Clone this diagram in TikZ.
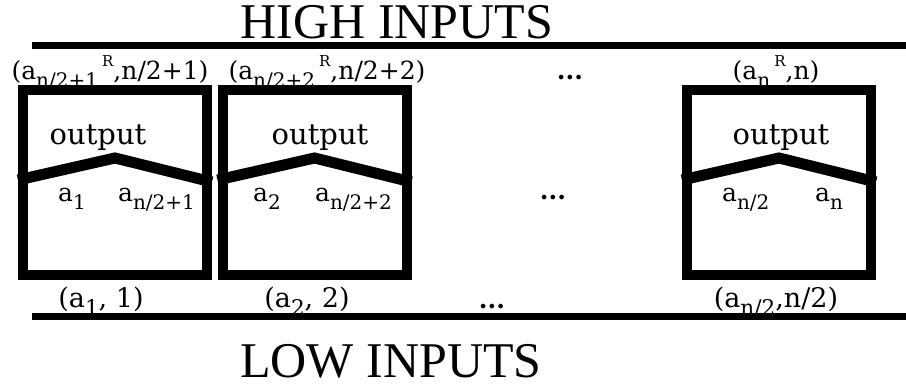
\documentclass[tikz,border=0pt]{standalone}
\usepackage{fontspec}
\usepackage{graphicx}
\setmainfont{DejaVu Serif}
\newfontfamily\headfont{Liberation Serif}
\newcommand\lsub[1]{\raisebox{-0.3em}{\scalebox{0.8}{#1}}}
\newcommand\lsup[1]{\raisebox{0.55em}{\scalebox{0.6}{#1}}}
\begin{document}
\begin{tikzpicture}[x=1pt,y=-1pt,
  head/.style={font=\headfont\fontsize{50}{55}\selectfont, inner sep=0pt, anchor=base},
  toplab/.style={font=\fontsize{25}{28}\selectfont, inner sep=0pt, anchor=base},
  dots/.style={font=\bfseries\fontsize{25}{28}\selectfont, inner sep=0pt, anchor=base},
  outlab/.style={font=\fontsize{29}{32}\selectfont, inner sep=0pt, anchor=base},
  inlab/.style={font=\fontsize{25}{28}\selectfont, inner sep=0pt, anchor=base west},
  botlab/.style={font=\fontsize{27}{30}\selectfont, inner sep=0pt, anchor=base},
  cell/.style={draw, line width=10pt, minimum width=184pt, minimum height=185pt, inner sep=0pt},
  roof/.style={line width=11pt, line join=miter},
  rail/.style={line width=7pt}
]
\useasboundingbox (0,0) rectangle (906,385);
% headings
\node[head] (hi) at (397,39) {HIGH INPUTS};
\node[head] (lo) at (391,377) {LOW INPUTS};
% rails
\coordinate (tl) at (32,46); \coordinate (tr) at (906,46);
\coordinate (bl) at (32,316); \coordinate (br) at (906,316);
\draw[rail] (tl) -- (tr);
\draw[rail] (bl) -- (br);
% top labels
\node[toplab] (t1) at (110,80) {(a\lsub{n/2+1}\,\lsup{R},n/2+1)};
\node[toplab] (t2) at (327,80) {(a\lsub{n/2+2}\,\lsup{R},n/2+2)};
\node[dots] (tdots) at (570,80) {...};
\node[toplab] (tn) at (776,80) {(a\lsub{n}\,\lsup{R},n)};
% output labels
\node[outlab] (o1) at (98,145) {output};
\node[outlab] (o2) at (320,145) {output};
\node[outlab] (o3) at (781,145) {output};
% inner labels
\node[inlab] (i1a) at (58,202) {a\lsub{1}};
\node[inlab] (i1b) at (118,202) {a\lsub{n/2+1}};
\node[inlab] (i2a) at (253,202) {a\lsub{2}};
\node[inlab] (i2b) at (315,202) {a\lsub{n/2+2}};
\node[inlab] (i3a) at (722,202) {a\lsub{n/2}};
\node[inlab] (i3b) at (815,202) {a\lsub{n}};
\node[dots] (mdots) at (553,200) {...};
% bottom labels
\node[botlab] (l1) at (101,307) {(a\lsub{1}, 1)};
\node[botlab] (l2) at (307,307) {(a\lsub{2}, 2)};
\node[dots] (ldots) at (492,308) {...};
\node[botlab] (ln) at (776,307) {(a\lsub{n/2},n/2)};
% boxes
\node[cell] (b1) at (115,182.5) {};
\node[cell] (b2) at (314.5,182.5) {};
\node[cell] (b3) at (779,182.5) {};
% roofs
\foreach \b in {b1,b2,b3}
  \draw[roof] ([yshift=2.5pt]\b.west) -- ([yshift=24.5pt]\b.center) -- ([yshift=0.5pt]\b.east);
\end{tikzpicture}
\end{document}
